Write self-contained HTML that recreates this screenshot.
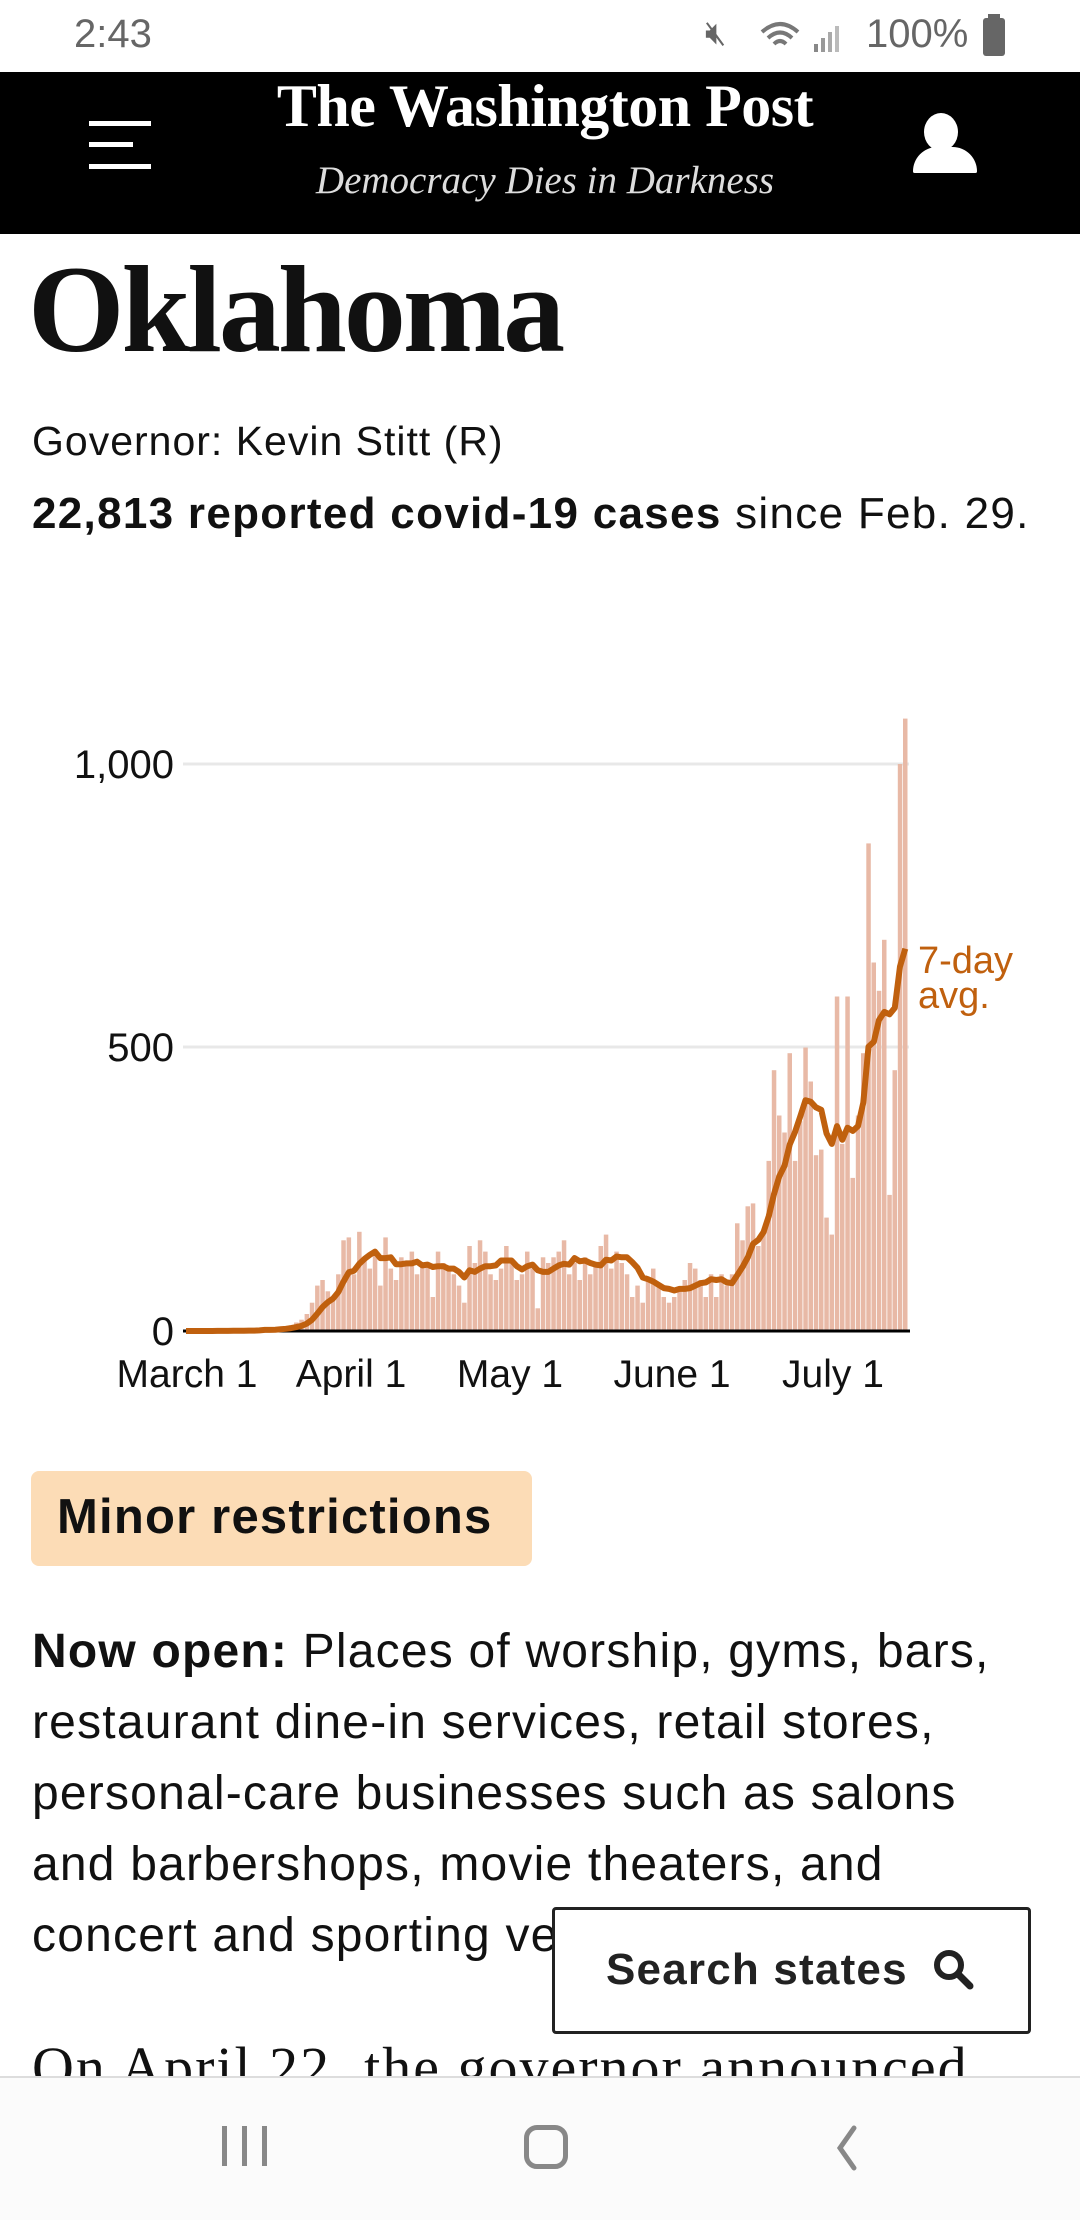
<!DOCTYPE html>
<html><head><meta charset="utf-8">
<style>
*{margin:0;padding:0;box-sizing:border-box}
body{width:1080px;height:2220px;overflow:hidden;background:#fff;position:relative;font-family:"Liberation Sans",sans-serif;color:#111}
.abs{position:absolute;white-space:nowrap}
</style></head><body>
<!-- status bar -->
<div class="abs" style="left:74px;top:12px;font-size:40px;color:#666">2:43</div>
<div class="abs" style="left:705px;top:14px;font-size:34px;color:#666">🔇︎</div>
<svg class="abs" style="left:760px;top:18px" width="100" height="40"><path d="M2 14 Q20 -2 38 14 M8 20 Q20 9 32 20 M14 26 Q20 20 26 26" stroke="#777" stroke-width="4" fill="none"/><rect x="54" y="26" width="4" height="8" fill="#888"/><rect x="61" y="20" width="4" height="14" fill="#999"/><rect x="68" y="14" width="4" height="20" fill="#aaa"/><rect x="75" y="8" width="4" height="26" fill="#bbb"/></svg>
<div class="abs" style="left:866px;top:12px;font-size:40px;color:#666">100%</div>
<div class="abs" style="left:983px;top:18px;width:22px;height:38px;background:#666;border-radius:3px"></div>
<div class="abs" style="left:988px;top:14px;width:12px;height:5px;background:#666"></div>
<!-- header -->
<div class="abs" style="left:0;top:72px;width:1080px;height:162px;background:#000"></div>
<div class="abs" style="left:89px;top:121px;width:62px;height:5px;background:#fff"></div>
<div class="abs" style="left:89px;top:142px;width:44px;height:5px;background:#fff"></div>
<div class="abs" style="left:89px;top:164px;width:62px;height:5px;background:#fff"></div>
<div class="abs" style="left:250px;top:72px;width:590px;text-align:center;font-family:'Liberation Serif',serif;font-weight:bold;font-size:60px;color:#fff;letter-spacing:-0.5px">The Washington Post</div>
<div class="abs" style="left:250px;top:158px;width:590px;text-align:center;font-family:'Liberation Serif',serif;font-style:italic;font-size:39px;color:#ddd">Democracy Dies in Darkness</div>
<div class="abs" style="left:924px;top:113px;width:34px;height:38px;background:#fff;border-radius:50%"></div>
<div class="abs" style="left:913px;top:147px;width:64px;height:26px;background:#fff;border-radius:30px 30px 2px 2px"></div>
<!-- title -->
<div class="abs" style="left:28px;top:240px;font-family:'Liberation Serif',serif;font-weight:bold;font-size:124px;letter-spacing:-3px;line-height:140px">Oklahoma</div>
<div class="abs" style="left:32px;top:418px;font-size:41px;letter-spacing:1px;color:#111">Governor: Kevin Stitt (R)</div>
<div class="abs" style="left:32px;top:489px;font-size:44px;letter-spacing:1.3px"><b>22,813 reported covid-19 cases</b> since Feb. 29.</div>
<!-- chart -->
<svg class="abs" style="left:0;top:0" width="1080" height="1420" id="ch">
<line x1="183" y1="764" x2="909" y2="764" stroke="#e8e8e8" stroke-width="3"/>
<line x1="183" y1="1047" x2="909" y2="1047" stroke="#e8e8e8" stroke-width="3"/>
<g id="bars" fill="#e8b9a6"></g>
<line x1="183" y1="1331" x2="910" y2="1331" stroke="#000" stroke-width="3"/>
<path id="avg" fill="none" stroke="#c0600e" stroke-width="6" stroke-linejoin="round"/>
<g font-family="Liberation Sans" font-size="40" fill="#111" text-anchor="end">
<text x="174" y="778">1,000</text><text x="174" y="1061">500</text><text x="174" y="1345">0</text></g>
<g font-family="Liberation Sans" font-size="39" fill="#111" text-anchor="middle">
<text x="187" y="1387">March 1</text><text x="351" y="1387">April 1</text><text x="510" y="1387">May 1</text><text x="672" y="1387">June 1</text><text x="833" y="1387">July 1</text></g>
<g font-family="Liberation Sans" font-size="38" fill="#c0600e">
<text x="918" y="973">7-day</text><text x="918" y="1008">avg.</text></g>
</svg>
<script>
var d=[0,0,0,0,0,0,1,0,0,1,1,0,2,1,3,5,2,3,5,8,10,15,20,30,50,80,90,70,60,100,160,165,100,175,130,110,140,80,165,110,90,130,120,140,100,120,120,60,140,120,110,100,80,50,150,120,160,140,100,90,110,150,120,90,100,140,110,40,130,120,130,140,160,100,120,90,130,100,120,150,170,110,140,120,100,60,80,50,90,110,80,60,50,60,70,90,120,110,90,60,100,60,100,80,100,190,160,220,225,150,175,300,460,380,350,490,300,370,500,440,310,320,200,170,590,330,590,270,380,490,860,650,600,690,240,460,1000,1080];
var g=document.getElementById('bars'),s='',p='';
function X(i){return 186+i*5.25}function Y(v){return 1331-v*0.567}
for(var i=0;i<d.length;i++){s+='<rect x="'+(X(i)-2.2).toFixed(1)+'" y="'+Y(d[i]).toFixed(1)+'" width="4.5" height="'+(d[i]*0.567).toFixed(1)+'"/>';
var a=0;for(var j=Math.max(0,i-6);j<=i;j++){a+=d[j]}a/=7;p+=(i?'L':'M')+X(i).toFixed(1)+' '+Y(a).toFixed(1);}
g.innerHTML=s;document.getElementById('avg').setAttribute('d',p);
</script>
<!-- badge -->
<div class="abs" style="left:31px;top:1471px;width:501px;height:95px;background:#fcdcb6;border-radius:8px"></div>
<div class="abs" style="left:57px;top:1489px;font-size:49px;font-weight:bold;letter-spacing:1.2px">Minor restrictions</div>
<!-- body -->
<div class="abs" style="left:32px;top:1616px;font-size:48px;line-height:71px;letter-spacing:1.2px;white-space:normal;width:1060px">
<b>Now open:</b> Places of worship, gyms, bars,<br>restaurant dine-in services, retail stores,<br>personal-care businesses such as salons<br>and barbershops, movie theaters, and<br>concert and sporting venues</div>
<div class="abs" style="left:32px;top:2034px;font-family:'Liberation Serif',serif;font-size:58px;letter-spacing:2px">On April 22, the governor announced</div>
<div class="abs" style="left:552px;top:1907px;width:479px;height:127px;background:#fff;border:3px solid #222;border-radius:4px"></div>
<div class="abs" style="left:606px;top:1945px;font-size:44px;font-weight:bold;color:#222;letter-spacing:1.2px">Search states</div>
<svg class="abs" style="left:932px;top:1948px" width="44" height="44"><circle cx="17" cy="17" r="12" stroke="#222" stroke-width="6" fill="none"/><line x1="26" y1="26" x2="38" y2="38" stroke="#222" stroke-width="7" stroke-linecap="round"/></svg>
<!-- nav bar -->
<div class="abs" style="left:0;top:2076px;width:1080px;height:144px;background:#fbfbfb;border-top:2px solid #ddd"></div>
<div class="abs" style="left:222px;top:2126px;width:5px;height:40px;background:#888"></div>
<div class="abs" style="left:242px;top:2126px;width:5px;height:40px;background:#888"></div>
<div class="abs" style="left:262px;top:2126px;width:5px;height:40px;background:#888"></div>
<div class="abs" style="left:524px;top:2125px;width:44px;height:44px;border:5px solid #888;border-radius:13px"></div>
<svg class="abs" style="left:832px;top:2124px" width="30" height="50"><path d="M22 4 L8 24 L22 44" stroke="#888" stroke-width="5" fill="none" stroke-linecap="round"/></svg>
</body></html>
